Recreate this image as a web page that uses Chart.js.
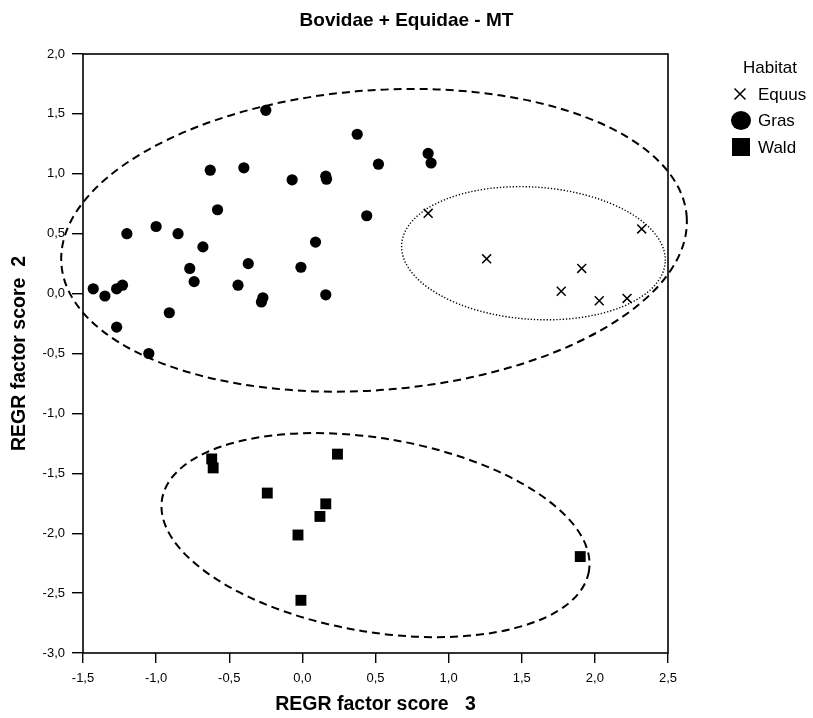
<!DOCTYPE html>
<html>
<head>
<meta charset="utf-8">
<script src="https://cdn.jsdelivr.net/npm/chart.js@4.4.0/dist/chart.umd.min.js"></script>
<style>
    html, body { margin: 0; padding: 0; background: #fff; }
    #wrap { width: 813px; height: 718px; }
</style>
</head>
<body>
<div id="wrap"><canvas id="chart" width="813" height="718"></canvas></div>
<script>
// Habitat groups (REGR factor score 3 vs score 2)
const chartTitle = 'Bovidae + Equidae - MT';
const seriesNames = ['Equus', 'Gras', 'Wald'];

const equusX = [0.86, 1.26, 1.91, 1.77, 2.03, 2.22, 2.32];
const equusY = [0.67, 0.29, 0.21, 0.02, -0.06, -0.04, 0.54];

const grasX = [-0.25, 0.375, 0.52, -0.63, -0.40, -0.07, 0.16, 0.165, -0.58, 0.44,
    -1.20, -1.00, -0.85, -0.68, 0.09, -0.77, -0.37, -0.01, -0.74, -0.44,
    -1.43, -1.35, -1.27, -1.23, -0.27, -0.28, 0.16, -0.91, -1.27, -1.05,
    0.86, 0.88];
const grasY = [1.53, 1.33, 1.08, 1.03, 1.05, 0.95, 0.98, 0.955, 0.70, 0.65,
    0.50, 0.56, 0.50, 0.39, 0.43, 0.21, 0.25, 0.22, 0.10, 0.07,
    0.04, -0.02, 0.04, 0.07, -0.035, -0.07, -0.01, -0.16, -0.28, -0.50,
    1.17, 1.09];

const waldX = [-0.62, -0.61, 0.24, -0.24, 0.16, 0.12, -0.03, 1.90, -0.01];
const waldY = [-1.38, -1.455, -1.34, -1.665, -1.755, -1.86, -2.015, -2.195, -2.56];

const xTicks = [-1.5, -1.0, -0.5, 0.0, 0.5, 1.0, 1.5, 2.0, 2.5];
const yTicks = [-3.0, -2.5, -2.0, -1.5, -1.0, -0.5, 0.0, 0.5, 1.0, 1.5, 2.0];

// group ellipses (centre, semi axes in axis units, tilt in degrees)
const ellipseGroup = ['Gras', 'Equus', 'Wald'];
const ellipseCx = [0.49, 1.58, 0.50];
const ellipseCy = [0.445, 0.337, -2.016];
const ellipseRx = [2.144, 0.903, 1.48];
const ellipseRy = [1.251, 0.552, 0.808];
const ellipseTilt = [-4.4, 3.9, 9.6];

const FONT = "'Liberation Sans', Arial, sans-serif";

function toPoints(xs, ys) {
    return xs.map((v, i) => ({ x: v, y: ys[i] }));
}

function fmt(v) {
    return v.toFixed(1).replace('.', ',');
}

// frame, ellipses, title and the legend on the right
const decorPlugin = {
    id: 'decor',
    afterDatasetsDraw(chart) {
        const { ctx, chartArea: a, scales: { x, y } } = chart;
        ctx.save();
        ctx.strokeStyle = '#000';

        ellipseGroup.forEach((g, i) => {
            const cx = x.getPixelForValue(ellipseCx[i]);
            const cy = y.getPixelForValue(ellipseCy[i]);
            const rx = Math.abs(x.getPixelForValue(ellipseCx[i] + ellipseRx[i]) - cx);
            const ry = Math.abs(y.getPixelForValue(ellipseCy[i] + ellipseRy[i]) - cy);
            if (g === 'Equus') {
                ctx.lineWidth = 1.4;
                ctx.setLineDash([1.3, 1.9]);
            } else {
                ctx.lineWidth = 2;
                ctx.setLineDash([8, 5]);
            }
            ctx.beginPath();
            ctx.ellipse(cx, cy, rx, ry, ellipseTilt[i] * Math.PI / 180, 0, Math.PI * 2);
            ctx.stroke();
        });

        ctx.setLineDash([]);
        ctx.lineWidth = 1.6;
        ctx.strokeRect(a.left, a.top, a.right - a.left, a.bottom - a.top);
        ctx.restore();
    },
    afterDraw(chart) {
        const { ctx, chartArea: a, width } = chart;
        ctx.save();
        ctx.fillStyle = '#000';
        ctx.strokeStyle = '#000';

        // title is centred on the whole canvas, not on the plot
        ctx.font = 'bold 19px ' + FONT;
        ctx.textAlign = 'center';
        ctx.textBaseline = 'middle';
        ctx.fillText(chartTitle, width / 2, 21);

        const mx = a.right + 72;
        const tx = a.right + 90;
        ctx.font = '17px ' + FONT;
        ctx.fillText('Habitat', a.right + 102, 68);
        ctx.textAlign = 'left';

        chart.data.datasets.forEach((ds, i) => {
            const ry = 94 + i * 26.5;
            if (ds.pointStyle === 'crossRot') {
                ctx.lineWidth = 1.5;
                ctx.beginPath();
                ctx.moveTo(mx - 5.5, ry - 5.5);
                ctx.lineTo(mx + 5.5, ry + 5.5);
                ctx.moveTo(mx + 5.5, ry - 5.5);
                ctx.lineTo(mx - 5.5, ry + 5.5);
                ctx.stroke();
            } else if (ds.pointStyle === 'circle') {
                ctx.beginPath();
                ctx.ellipse(mx + 1, ry, 10, 9.5, 0, 0, Math.PI * 2);
                ctx.fill();
            } else {
                ctx.fillRect(mx - 8, ry - 9, 18, 18);
            }
            ctx.fillText(ds.label, tx, ry + 1);
        });
        ctx.restore();
    }
};

new Chart(document.getElementById('chart'), {
    type: 'scatter',
    data: {
        datasets: [
            {
                label: seriesNames[0],
                data: toPoints(equusX, equusY),
                pointStyle: 'crossRot',
                pointRadius: 6.3,
                pointBorderWidth: 1.5,
                borderColor: '#000',
                backgroundColor: '#000'
            },
            {
                label: seriesNames[1],
                data: toPoints(grasX, grasY),
                pointStyle: 'circle',
                pointRadius: 5.6,
                pointBorderWidth: 0,
                borderColor: '#000',
                backgroundColor: '#000'
            },
            {
                label: seriesNames[2],
                data: toPoints(waldX, waldY),
                pointStyle: 'rect',
                pointRadius: 7.7,
                pointBorderWidth: 0,
                borderColor: '#000',
                backgroundColor: '#000'
            }
        ]
    },
    options: {
        responsive: false,
        animation: false,
        layout: {
            padding: { left: 0, right: 145, top: 54, bottom: 0 }
        },
        plugins: {
            legend: { display: false },
            tooltip: { enabled: false },
            title: { display: false }
        },
        scales: {
            x: {
                type: 'linear',
                min: -1.5,
                max: 2.5,
                afterBuildTicks: s => { s.ticks = xTicks.map(v => ({ value: v })); },
                afterFit: s => { s.height = 65; },
                border: { display: false },
                grid: {
                    drawOnChartArea: false,
                    drawTicks: true,
                    tickLength: 10,
                    color: '#000',
                    lineWidth: 1.4
                },
                ticks: {
                    color: '#000',
                    padding: 8,
                    maxRotation: 0,
                    autoSkip: false,
                    font: { family: FONT, size: 13 },
                    callback: v => fmt(v)
                },
                title: {
                    display: true,
                    text: 'REGR factor score   3',
                    color: '#000',
                    font: { family: FONT, size: 19.5, weight: 'bold' },
                    padding: { top: 0, bottom: 2 }
                }
            },
            y: {
                type: 'linear',
                min: -3.0,
                max: 2.0,
                afterBuildTicks: s => { s.ticks = yTicks.map(v => ({ value: v })); },
                afterFit: s => { s.width = 83; },
                border: { display: false },
                grid: {
                    drawOnChartArea: false,
                    drawTicks: true,
                    tickLength: 11,
                    color: '#000',
                    lineWidth: 1.4
                },
                ticks: {
                    color: '#000',
                    padding: 7,
                    autoSkip: false,
                    font: { family: FONT, size: 13 },
                    callback: v => fmt(v)
                },
                title: {
                    display: true,
                    text: 'REGR factor score  2',
                    color: '#000',
                    font: { family: FONT, size: 19.5, weight: 'bold' },
                    padding: { top: 8, bottom: 0 }
                }
            }
        }
    },
    plugins: [decorPlugin]
});
</script>
</body>
</html>
